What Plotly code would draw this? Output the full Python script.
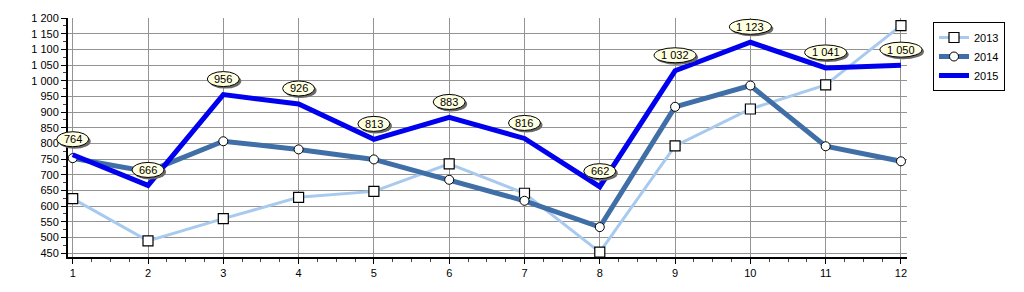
import plotly.graph_objects as go

months = list(range(1, 13))
s2013 = [624, 489, 560, 628, 647, 735, 641, 453, 792, 910, 987, 1176]
s2014 = [753, 710, 807, 781, 749, 684, 617, 533, 917, 985, 791, 743]
s2015 = [764, 666, 956, 926, 813, 883, 816, 662, 1032, 1123, 1041, 1050]
y_ticks = list(range(450, 1201, 50))
y_ticktext = [f"{v:,}".replace(",", " ") for v in y_ticks]
x_ticks = months
x_ticktext = [str(m) for m in months]

X_RANGE = [0.9375, 12.08]
Y_RANGE = [437.5, 1200.5]
FONT = "Liberation Sans, Arial, sans-serif"

fig = go.Figure()
fig.add_trace(go.Scatter(
    x=months, y=s2013, name="2013", mode="lines+markers",
    line=dict(color="#A8CAEE", width=3),
    marker=dict(symbol="square", size=10, color="white", line=dict(color="black", width=1.2)),
    cliponaxis=False,
))
fig.add_trace(go.Scatter(
    x=months, y=s2014, name="2014", mode="lines+markers",
    line=dict(color="#3F6FA6", width=5),
    marker=dict(symbol="circle", size=9, color="white", line=dict(color="black", width=1)),
    cliponaxis=False,
))
fig.add_trace(go.Scatter(
    x=months, y=s2015, name="2015", mode="lines",
    line=dict(color="#0000EE", width=5),
))

shapes = []
annotations = []
for m, v in zip(months, s2015):
    txt = f"{v:,}".replace(",", " ")
    fx = (m - X_RANGE[0]) / (X_RANGE[1] - X_RANGE[0])
    fy = (v - Y_RANGE[0]) / (Y_RANGE[1] - Y_RANGE[0])
    hw = 16 if len(txt) <= 3 else 21
    # shadow
    shapes.append(dict(
        type="circle", xref="x domain", yref="y domain",
        xsizemode="pixel", ysizemode="pixel", xanchor=fx, yanchor=fy,
        x0=-hw + 2, x1=hw + 2, y0=8 - 2, y1=23 - 2,
        fillcolor="#6a6a6a", line=dict(width=0), layer="above",
    ))
    shapes.append(dict(
        type="circle", xref="x domain", yref="y domain",
        xsizemode="pixel", ysizemode="pixel", xanchor=fx, yanchor=fy,
        x0=-hw, x1=hw, y0=8, y1=23,
        fillcolor="#FFFFE1", line=dict(color="black", width=1), layer="above",
    ))
    annotations.append(dict(
        x=m, y=v, xref="x", yref="y", text=txt, showarrow=False,
        yshift=15.5, font=dict(family=FONT, size=11, color="black"),
    ))

fig.update_layout(
    width=1024, height=292,
    margin=dict(l=68, r=117, t=12, b=35),
    paper_bgcolor="white", plot_bgcolor="white",
    font=dict(family=FONT, size=11, color="black"),
    shapes=shapes, annotations=annotations,
    showlegend=True,
    legend=dict(
        xref="container", yref="container", x=933 / 1024, y=1 - 22 / 292,
        xanchor="left", yanchor="top",
        bordercolor="black", borderwidth=1, bgcolor="white",
        font=dict(family=FONT, size=11, color="black"),
        itemwidth=30, tracegroupgap=0,
    ),
    hovermode=False,
)
fig.update_xaxes(
    range=X_RANGE, tickmode="array", tickvals=x_ticks, ticktext=x_ticktext,
    showgrid=True, gridcolor="#939393", gridwidth=1,
    showline=True, linecolor="black", linewidth=2,
    ticks="outside", ticklen=5, tickcolor="black", tickwidth=1,
    minor=dict(dtick=0.25, tick0=1, ticks="outside", ticklen=3, tickcolor="#444", showgrid=False),
    zeroline=False,
)
fig.update_yaxes(
    range=Y_RANGE, tickmode="array", tickvals=y_ticks, ticktext=y_ticktext,
    showgrid=True, gridcolor="#939393", gridwidth=1,
    showline=True, linecolor="black", linewidth=2,
    ticks="outside", ticklen=5, tickcolor="black", tickwidth=1,
    minor=dict(dtick=25, tick0=450, ticks="outside", ticklen=3, tickcolor="#444", showgrid=False),
    zeroline=False,
)

fig.write_html("out.html")
